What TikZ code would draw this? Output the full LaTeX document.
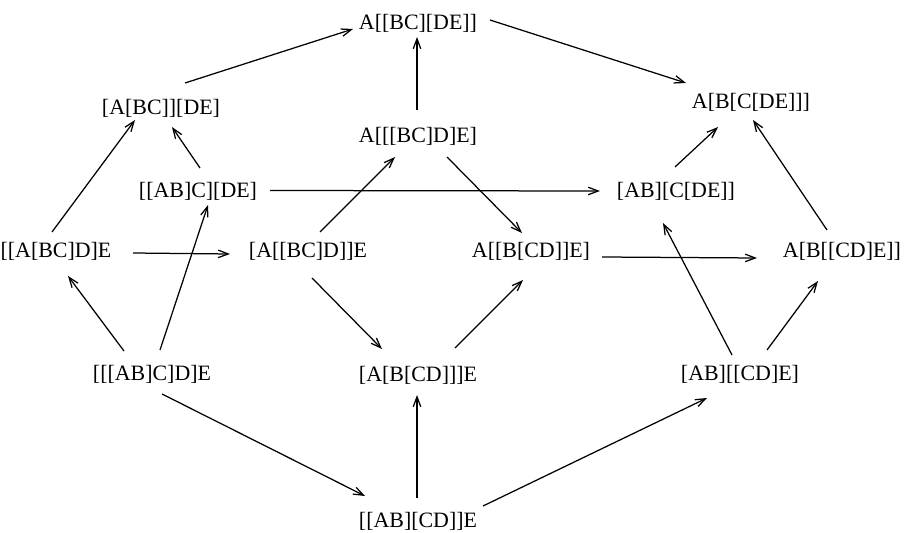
\documentclass[tikz,border=0pt]{standalone}
\usepackage{fontspec}
\setmainfont{Liberation Serif}
\usetikzlibrary{arrows.meta}
\begin{document}
\begin{tikzpicture}[x=1bp,y=-1bp,
  lbl/.style={font=\fontsize{22}{26}\selectfont, inner sep=0pt, text height=14.6bp, text depth=0bp, anchor=center},
  arr/.style={line width=1.25bp, -{Straight Barb[length=10bp,width=7.5bp,line width=1.25bp]}}]
\useasboundingbox (0,0) rectangle (911,533);
\node[lbl] (n1)  at (418,22)    {A[[BC][DE]]};
\node[lbl] (n2)  at (161,107.5) {[A[BC]][DE]};
\node[lbl] (n3)  at (751,101)   {A[B[C[DE]]]};
\node[lbl] (n4)  at (418,135)   {A[[[BC]D]E]};
\node[lbl] (n5)  at (198,190.5) {[[AB]C][DE]};
\node[lbl] (n6)  at (676,190)   {[AB][C[DE]]};
\node[lbl] (n7)  at (56,250.5)  {[[A[BC]D]E};
\node[lbl] (n8)  at (308,250.5) {[A[[BC]D]]E};
\node[lbl] (n9)  at (531,250)   {A[[B[CD]]E]};
\node[lbl] (n10) at (842,250)   {A[B[[CD]E]]};
\node[lbl] (n11) at (152,373)   {[[[AB]C]D]E};
\node[lbl] (n12) at (418,374)   {[A[B[CD]]]E};
\node[lbl] (n13) at (740,373)   {[AB][[CD]E]};
\node[lbl] (n14) at (418,520)   {[[AB][CD]]E};
% connectors
\draw[arr] ([shift={(24,-24.5)}]n2.center) -- ([shift={(-65,7)}]n1.center);
\draw[arr] ([shift={(72,-2)}]n1.center) -- ([shift={(-65,-18)}]n3.center);
\draw[arr] ([shift={(-1,-25)}]n4.center) -- ([shift={(-1,15)}]n1.center);
\draw[arr] ([shift={(2,-22.5)}]n5.center) -- ([shift={(11,19.5)}]n2.center);
\draw[arr] ([shift={(-4,-18.5)}]n7.center) -- ([shift={(-26,12.5)}]n2.center);
\draw[arr] ([shift={(72,0)}]n5.center) -- ([shift={(-76,1)}]n6.center);
\draw[arr] ([shift={(77,2.5)}]n7.center) -- ([shift={(-78,3.5)}]n8.center);
\draw[arr] ([shift={(12,-18.5)}]n8.center) -- ([shift={(-23,22)}]n4.center);
\draw[arr] ([shift={(29,22)}]n4.center) -- ([shift={(-9,-17)}]n9.center);
\draw[arr] ([shift={(8,-23)}]n11.center) -- ([shift={(10,14.5)}]n5.center);
\draw[arr] ([shift={(-1,-23)}]n6.center) -- ([shift={(-33,26)}]n3.center);
\draw[arr] ([shift={(-15,-20)}]n10.center) -- ([shift={(2,19)}]n3.center);
\draw[arr] ([shift={(71,7)}]n9.center) -- ([shift={(-85,8)}]n10.center);
\draw[arr] ([shift={(-8,-18)}]n13.center) -- ([shift={(-13,33)}]n6.center);
\draw[arr] ([shift={(-28,-22)}]n11.center) -- ([shift={(12,25.5)}]n7.center);
\draw[arr] ([shift={(4,27.5)}]n8.center) -- ([shift={(-36,-25)}]n12.center);
\draw[arr] ([shift={(10,21)}]n11.center) -- ([shift={(-53,-24)}]n14.center);
\draw[arr] ([shift={(-1,-22)}]n14.center) -- ([shift={(-1,21)}]n12.center);
\draw[arr] ([shift={(37,-26)}]n12.center) -- ([shift={(-8,30)}]n9.center);
\draw[arr] ([shift={(65,-14)}]n14.center) -- ([shift={(-33,25)}]n13.center);
\draw[arr] ([shift={(27,-23)}]n13.center) -- ([shift={(-24,31)}]n10.center);
\end{tikzpicture}
\end{document}
